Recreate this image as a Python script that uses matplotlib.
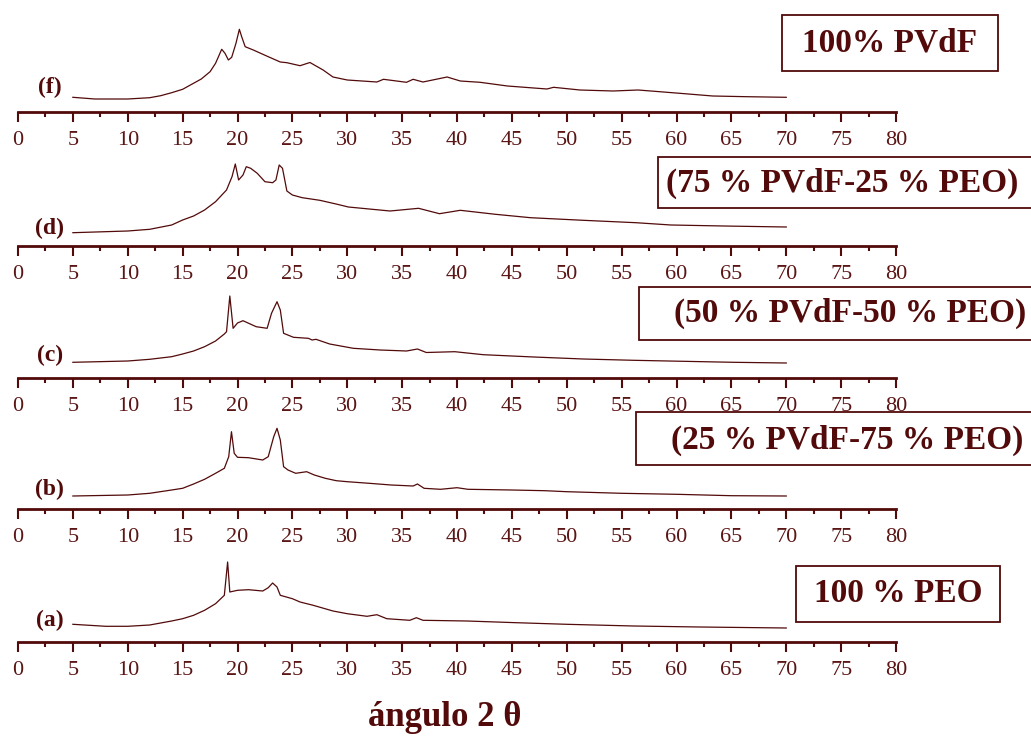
import matplotlib
matplotlib.use("Agg")
from matplotlib import pyplot as plt
from matplotlib.patches import Rectangle

# 2theta (deg) and intensity (a.u.), one pair of lists per sample
theta_f = [5, 7, 10, 12, 13, 14, 15, 16.7, 17.5, 18, 18.56, 18.86, 19.17, 19.47, 19.86, 20.17, 20.38, 20.7,
           21.44, 22.8, 23.9, 24.5, 25.7, 26.6, 27.8, 28.7, 30, 32.7, 33.3, 35.4, 36, 36.9, 39.1, 40.3, 42.1,
           44.6, 48.2, 48.8, 51.2, 54.2, 56.5, 60.3, 63.3, 66.4, 70]
int_f = [14.7, 13, 13, 14.3, 16.3, 19.3, 22.7, 33, 40.3, 48.7, 62.7, 58.7, 52, 54.7, 68.7, 82.7, 75.3, 65.3,
         62, 55.3, 50, 49.3, 46.3, 49.5, 42, 35, 32, 30, 32.7, 29.7, 32.7, 30, 35, 31, 29.7,
         26, 23, 24.7, 22, 21, 22, 18.7, 16, 15.3, 14.7]

theta_d = [5, 10, 12, 14, 15, 16, 17, 18, 19, 19.5, 19.8, 20.1, 20.5, 20.8, 21.2, 21.8, 22.5, 23.2, 23.5,
           23.8, 24.1, 24.5, 25, 25.9, 27.5, 29.1, 30.1, 33.9, 36.5, 38.4, 40.3, 43.5, 46.7, 51.5, 56.3,
           59.5, 64.3, 70]
int_d = [13.3, 15, 16.7, 21, 26, 30, 36, 44.3, 56, 69.3, 82, 66, 71, 79.3, 77.7, 72.7, 64.3, 63.3, 66,
         81, 77.7, 55, 51, 48.3, 45.7, 41.7, 39, 35, 37.7, 32.3, 35.7, 31.7, 28.3, 25.7, 23.3,
         21, 20, 19]

theta_c = [5, 10, 12, 14, 15, 16, 17, 18, 18.8, 19.0, 19.3, 19.6, 20.0, 20.5, 21.7, 22.7, 23.1, 23.6,
           23.9, 24.2, 25.1, 26.45, 26.8, 27.15, 28.4, 30.55, 33.0, 35.4, 36.4, 37.2, 39.8, 42.4, 47,
           51.5, 56.1, 60.6, 65.2, 70]
int_c = [15.7, 17, 18.7, 21.3, 24, 27, 31.3, 37, 44, 46.3, 82, 49.7, 55, 57.3, 51.3, 49.7, 64.7, 76.3,
         68, 44.7, 40.7, 39.7, 38, 38.7, 34, 29.7, 28, 27, 29, 25.5, 26.3, 23.3, 21,
         19, 17.7, 16.7, 15.7, 15]

theta_b = [5, 10, 12, 14, 15, 16, 17, 18, 18.8, 19.2, 19.45, 19.7, 20.0, 21, 22.3, 22.8, 23.3, 23.6,
           23.9, 24.2, 24.6, 25.3, 26.3, 27, 28, 29, 30, 32, 34, 36, 36.4, 37, 38.5, 40, 41, 45, 48,
           50, 55, 60, 65, 70]
int_b = [13, 14, 15.7, 19, 20.7, 25, 29.7, 35.7, 40.7, 52.3, 77.3, 55.7, 51.7, 51.3, 49, 52.3, 72.3, 80.7,
         69, 42.3, 39, 35.7, 37.3, 34, 30.7, 28.3, 27.3, 25.7, 24, 23, 25, 20.7, 19.7, 21.3, 19.7, 19, 18.3,
         17.3, 15.7, 14.7, 13.3, 13]

theta_a = [5, 8, 10, 12, 14, 15, 16, 17, 18, 18.8, 19.1, 19.3, 20, 21, 22.3, 22.8, 23.2, 23.6, 23.9,
           25, 25.7, 26.9, 28.7, 30, 31.8, 32.7, 33.6, 35.7, 36.3, 36.9, 40.9, 45.4, 50, 56.1, 62.1, 70]
int_a = [17.7, 15.7, 15.7, 17, 21, 23.3, 26.7, 31.7, 38.3, 46.7, 80, 50, 51.7, 52.3, 51, 54.3, 59, 55, 46.7,
         43.3, 40, 36.7, 31, 28.3, 25.7, 27.3, 23.3, 21.7, 24.3, 21.7, 21, 19.3, 17.7, 16, 15, 14]

panels = [
    ("(f)", theta_f, int_f, 25),
    ("(d)", theta_d, int_d, 18),
    ("(c)", theta_c, int_c, 23),
    ("(b)", theta_b, int_b, 20),
    ("(a)", theta_a, int_a, 22),
]
axis_rows = [112, 246, 378, 509, 642]   # pixel row of each x axis line

labels = ["100% PVdF", "(75 % PVdF-25 % PEO)", "(50 % PVdF-50 % PEO)",
          "(25 % PVdF-75 % PEO)", "100 % PEO"]
boxes = [(782, 15, 998, 71), (658, 157, 1040, 208), (639, 287, 1040, 340),
         (636, 412, 1040, 465), (796, 566, 1000, 622)]

col = "#520a0a"
W, H = 1031, 740
serif = ["Liberation Serif", "DejaVu Serif"]

fig = plt.figure(figsize=(W / 100, H / 100), dpi=100)

for (lab, tx, iy, ly), row in zip(panels, axis_rows):
    ax = fig.add_axes([18 / W, (H - row) / H, 878 / W, 100 / H])
    ax.plot(tx, iy, color=col, lw=0.9)
    ax.set_xlim(0, 80)
    ax.set_ylim(0, 100)
    ax.patch.set_alpha(0)
    for s in ["top", "left", "right"]:
        ax.spines[s].set_visible(False)
    ax.spines["bottom"].set_color(col)
    ax.spines["bottom"].set_linewidth(2.0)
    ax.set_yticks([])
    ax.set_xticks(range(0, 81, 5))
    ax.set_xticks([2.5 + 5 * i for i in range(16)], minor=True)
    ax.tick_params(axis="x", which="major", direction="out", length=7.5, width=1.5,
                   color=col, labelcolor="#5a1515", labelsize=16, pad=6)
    ax.tick_params(axis="x", which="minor", direction="out", length=3.8, width=1.5, color=col)
    for t in ax.get_xticklabels():
        t.set_family(serif)
    ax.text(2.9, ly, lab, color=col, fontsize=17, fontweight="bold", family=serif,
            ha="center", va="center")

for (x0, y0, x1, y1), txt in zip(boxes, labels):
    rect = Rectangle((x0 / W, 1 - y1 / H), (x1 - x0) / W, (y1 - y0) / H,
                     transform=fig.transFigure, facecolor="white", edgecolor=col,
                     lw=1.3, zorder=5)
    fig.add_artist(rect)

label_pos = [(890, 43), (842, 183), (850, 313), (847, 440), (898, 593)]
for (cx, cy), txt in zip(label_pos, labels):
    fig.text(cx / W, 1 - cy / H, txt, color=col, fontsize=24, fontweight="bold",
             family=serif, ha="center", va="center", zorder=6)

fig.text(445 / W, 1 - 718 / H, "ángulo 2 θ", color=col, fontsize=25, fontweight="bold",
         family=serif, ha="center", va="center")

plt.savefig("out.png", dpi=100)
